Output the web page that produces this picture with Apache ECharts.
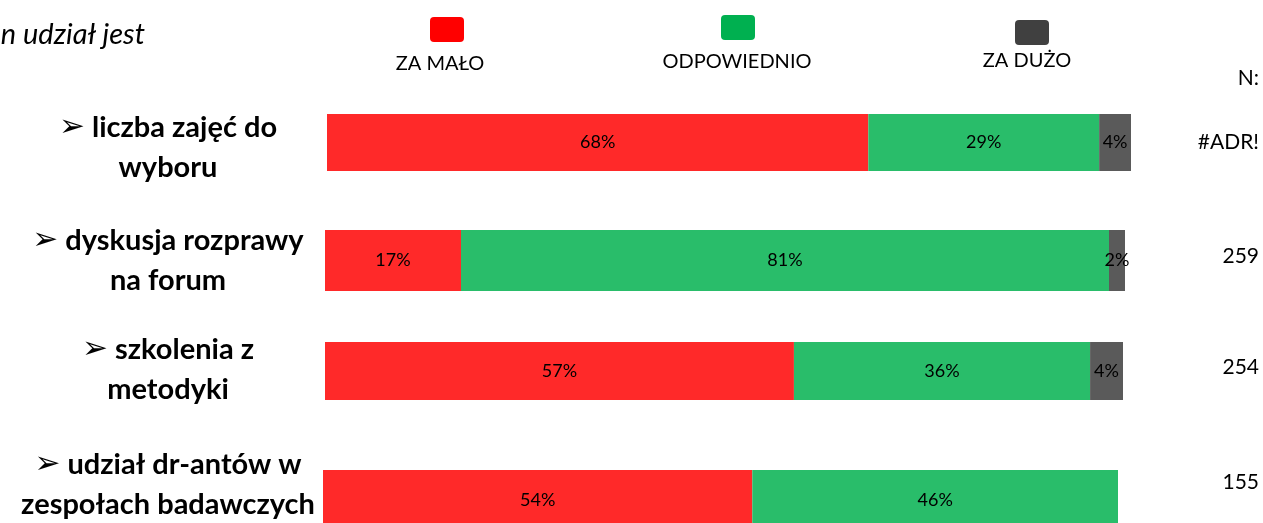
<!DOCTYPE html>
<html>
<head>
<meta charset="utf-8">
<script src="https://cdn.jsdelivr.net/npm/echarts@6/dist/echarts.min.js"></script>
<style>
  html, body { margin: 0; padding: 0; background: #fff; }
  #chart { width: 1263px; height: 523px; }
</style>
</head>
<body>
<div id="chart"></div>
<script>
// dane z wykresu
const categories = [
  '➢ liczba zajęć do\nwyboru',
  '➢ dyskusja rozprawy\nna forum',
  '➢ szkolenia z\nmetodyki',
  '➢ udział dr-antów w\nzespołach badawczych'
];
const nValues = ['#ADR!', '259', '254', '155'];
const seriesNames = ['ZA MAŁO', 'ODPOWIEDNIO', 'ZA DUŻO'];
const zaMalo = [68, 17, 57, 54];
const odpowiednio = [29, 81, 36, 46];
const zaDuzo = [4, 2, 4, null];

// kolory
const barColors = ['#ff2929', '#29bd6a', '#5a5a5a'];
const legendColors = ['#ff0000', '#00b050', '#404040'];

// każdy pasek ma swoją siatkę (oryginał sklejony z osobnych wykresów)
const barLeft = [327, 325, 325, 323];
const barEnd = [1131, 1125, 1123, 1118];
const barTop = [114, 230, 342, 470];
const barHeight = [57, 61, 58, 60];
const labelShift = [5, 0, -1, -15];   // przesunięcie podpisów względem środka paska
const nShift = [0, -4, -4, -18];

const font = 'Lato, "DejaVu Sans", sans-serif';
const values = [zaMalo, odpowiednio, zaDuzo];

// pusta linia jako odstęp, żeby przesunąć blok tekstu w pionie
function withGap(text, shift) {
  if (shift > 0) return '{g| }\n' + text;
  if (shift < 0) return text + '\n{g| }';
  return text;
}

const grid = [], xAxis = [], yAxis = [], series = [];
categories.forEach((cat, i) => {
  grid.push({
    left: barLeft[i],
    width: barEnd[i] - barLeft[i],
    top: barTop[i],
    height: barHeight[i],
    outerBoundsMode: 'none'
  });
  const total = values.reduce((s, arr) => s + (arr[i] || 0), 0);
  xAxis.push({ type: 'value', gridIndex: i, min: 0, max: total, show: false });
  yAxis.push({
    type: 'category',
    gridIndex: i,
    data: [cat],
    axisLine: { show: false },
    axisTick: { show: false },
    axisLabel: {
      align: 'center',
      margin: barLeft[i] - 168,
      formatter: v => {
        const lines = v.split('\n').map(l => {
          if (l.startsWith('➢')) return '{a|➢}{t|' + l.slice(1) + '}';
          return '{t|' + l + '}';
        });
        return withGap(lines.join('\n'), labelShift[i]);
      },
      rich: {
        t: { fontFamily: font, fontSize: 29, fontWeight: 'bold', lineHeight: 40, color: '#000' },
        a: { fontFamily: '"DejaVu Sans"', fontSize: 31, lineHeight: 40, color: '#000' },
        g: { fontSize: 1, lineHeight: Math.abs(labelShift[i]) * 2 }
      }
    }
  });
  yAxis.push({
    type: 'category',
    gridIndex: i,
    position: 'right',
    data: [nValues[i]],
    axisLine: { show: false },
    axisTick: { show: false },
    axisLabel: {
      align: 'right',
      margin: 1259 - barEnd[i],
      formatter: v => withGap('{n|' + v + '}', nShift[i]),
      rich: {
        n: { fontFamily: font, fontSize: 21, lineHeight: 26, color: '#000' },
        g: { fontSize: 1, lineHeight: Math.abs(nShift[i]) * 2 }
      }
    }
  });
  values.forEach((arr, k) => {
    if (arr[i] == null) return;
    series.push({
      name: seriesNames[k],
      type: 'bar',
      stack: 'total' + i,
      xAxisIndex: i,
      yAxisIndex: i * 2,
      data: [arr[i]],
      barWidth: barHeight[i],
      itemStyle: { color: barColors[k] },
      label: {
        show: true,
        position: 'inside',
        formatter: '{c}%',
        color: '#000',
        fontFamily: font,
        fontSize: 18
      },
      silent: true
    });
  });
});

// legenda: ikonka nad tekstem
const legendX = [447, 738, 1032];
const legendIconTop = [17, 15, 20];
const legendTextX = [440, 737, 1027];
const legendTextY = [64, 62, 61];
const graphic = [
  {
    type: 'text',
    x: 145, y: 35,
    style: {
      text: 'n udział jest',
      font: 'italic 29px ' + font,
      fill: '#000',
      align: 'right',
      verticalAlign: 'middle'
    }
  },
  {
    type: 'text',
    x: 1259, y: 78,
    style: {
      text: 'N:',
      font: '21px ' + font,
      fill: '#000',
      align: 'right',
      verticalAlign: 'middle'
    }
  }
];
seriesNames.forEach((name, k) => {
  graphic.push({
    type: 'rect',
    shape: { x: legendX[k] - 17, y: legendIconTop[k], width: 34, height: 25, r: 4 },
    style: { fill: legendColors[k] }
  });
  graphic.push({
    type: 'text',
    x: legendTextX[k], y: legendTextY[k],
    style: {
      text: name,
      font: '20px ' + font,
      fill: '#000',
      align: 'center',
      verticalAlign: 'middle'
    }
  });
});

const chart = echarts.init(document.getElementById('chart'));
chart.setOption({
  animation: false,
  grid: grid,
  xAxis: xAxis,
  yAxis: yAxis,
  series: series,
  graphic: graphic
});
</script>
</body>
</html>
